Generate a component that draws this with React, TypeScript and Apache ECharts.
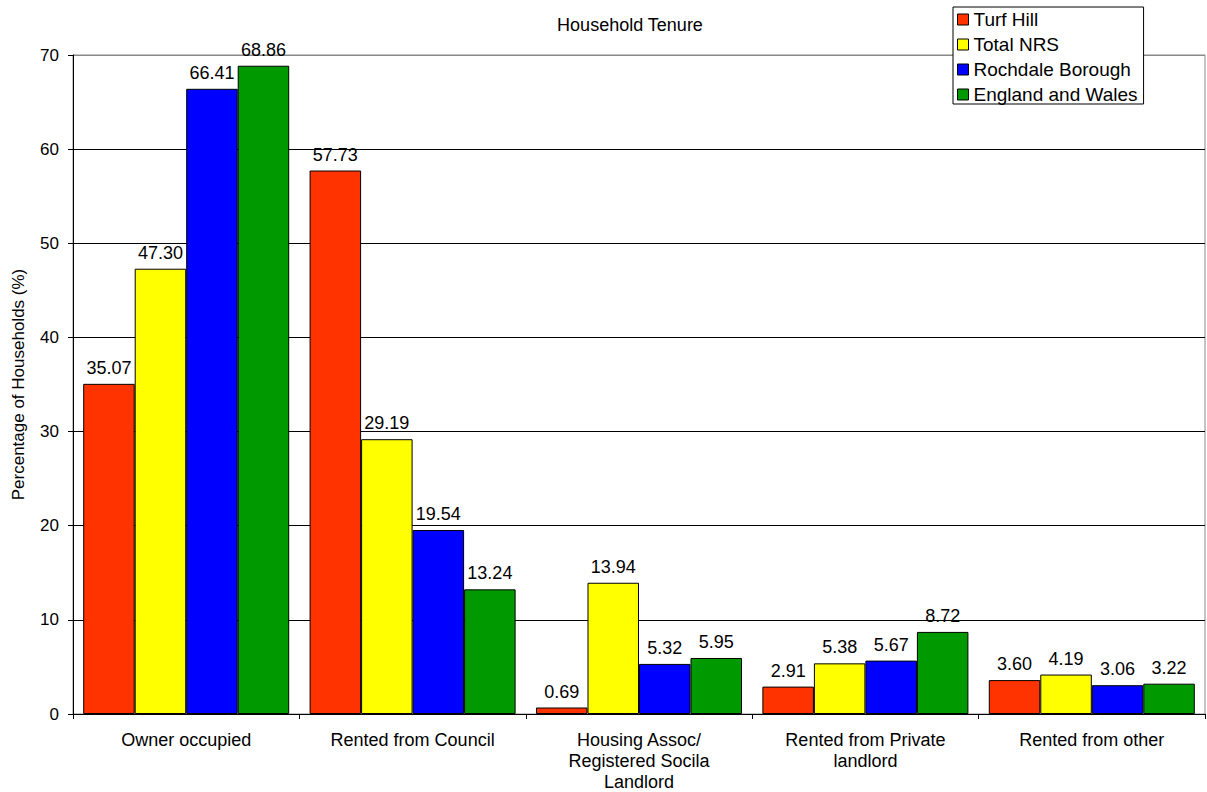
import React, { useEffect, useRef } from "react";
import * as echarts from "echarts";

const categories = [
  "Owner occupied",
  "Rented from Council",
  "Housing Assoc/\nRegistered Socila\nLandlord",
  "Rented from Private\nlandlord",
  "Rented from other",
];
const seriesNames = ["Turf Hill", "Total NRS", "Rochdale Borough", "England and Wales"];
const turfHill = [35.07, 57.73, 0.69, 2.91, 3.6];
const totalNRS = [47.3, 29.19, 13.94, 5.38, 4.19];
const rochdale = [66.41, 19.54, 5.32, 5.67, 3.06];
const englandWales = [68.86, 13.24, 5.95, 8.72, 3.22];
const colors = ["#FF3300", "#FFFF00", "#0000FF", "#009900"];

export default function App() {
  const ref = useRef<HTMLDivElement>(null);
  useEffect(() => {
    document.body.style.margin = "0";
    const chart = echarts.init(ref.current!, null, { renderer: "svg" });
    const font = "'Liberation Sans', Arial, sans-serif";
    const data = [turfHill, totalNRS, rochdale, englandWales];
    chart.setOption({
      animation: false,
      textStyle: { fontFamily: font, color: "#000" },
      title: {
        text: "Household Tenure",
        left: 625,
        textAlign: "center",
        top: 11,
        textStyle: { fontFamily: font, fontSize: 18, fontWeight: "normal", color: "#000" },
      },
      legend: {
        orient: "vertical",
        left: 953,
        top: 7,
        icon: "rect",
        itemWidth: 11,
        itemHeight: 11,
        itemGap: 6,
        padding: [3, 6, 0, 4],
        backgroundColor: "#fff",
        borderColor: "#000",
        borderWidth: 1,
        textStyle: { fontFamily: font, fontSize: 19, color: "#000" },
        data: seriesNames.map((n) => ({ name: n, itemStyle: { borderColor: "#000", borderWidth: 1 } })),
      },
      grid: {
        left: 73,
        top: 55,
        width: 1132,
        height: 659,
        outerBoundsMode: "none",
        containLabel: false,
        show: true,
        borderColor: "#888",
        borderWidth: 1,
        backgroundColor: "transparent",
      },
      xAxis: {
        type: "category",
        data: categories,
        axisLine: { lineStyle: { color: "#000", width: 1 } },
        axisTick: { show: true, length: 5, lineStyle: { color: "#000" } },
        axisLabel: { color: "#000", fontSize: 18, fontFamily: font, margin: 15, lineHeight: 21 },
      },
      yAxis: {
        type: "value",
        min: 0,
        max: 70,
        interval: 10,
        name: "Percentage of Households (%)",
        nameLocation: "middle",
        nameGap: 46,
        nameTextStyle: { fontFamily: font, fontSize: 17, color: "#000" },
        axisLine: { show: true, lineStyle: { color: "#000", width: 1 } },
        axisTick: { show: true, length: 5, lineStyle: { color: "#000" } },
        axisLabel: { color: "#000", fontSize: 17, fontFamily: font, margin: 14 },
        splitLine: {
          show: true,
          lineStyle: { color: ["#000", "#000", "#000", "#000", "#000", "#000", "#000", "#888"], width: 1 },
        },
      },
      series: seriesNames.map((name, i) => ({
        name,
        type: "bar",
        data: data[i],
        barGap: "0%",
        barCategoryGap: "9%",
        itemStyle: { color: colors[i], borderColor: "#000", borderWidth: 1 },
        label: {
          show: true,
          position: "top",
          distance: 7,
          color: "#000",
          fontSize: 18,
          fontFamily: font,
          formatter: (p: any) => Number(p.value).toFixed(2),
        },
      })),
    });
    return () => chart.dispose();
  }, []);
  return <div ref={ref} style={{ width: 1207, height: 792 }} />;
}
